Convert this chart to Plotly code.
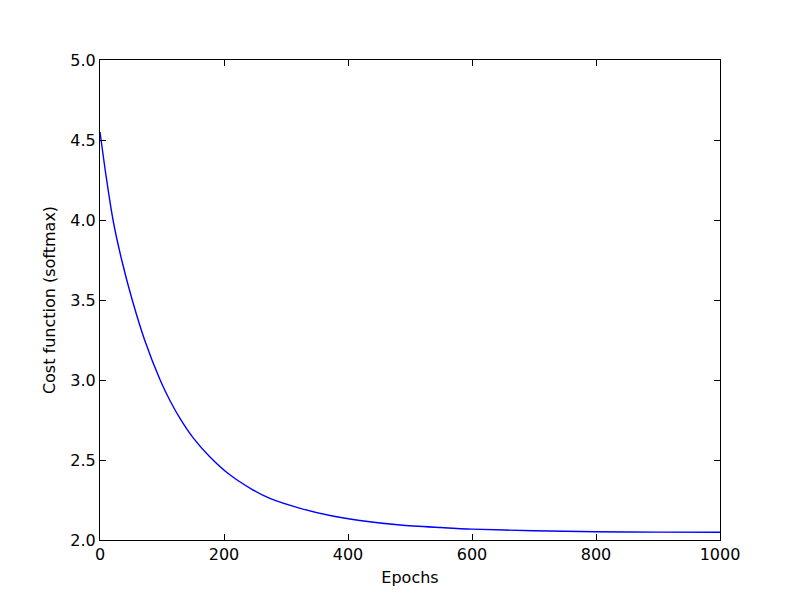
import plotly.graph_objects as go

epochs = [0, 10, 21, 35, 52, 72, 97, 113, 129, 150, 177, 210, 245, 274, 323, 371, 419, 484, 550, 600, 700, 800, 900, 1000]
cost = [4.55, 4.27, 4.00, 3.75, 3.50, 3.25, 3.00, 2.87, 2.76, 2.64, 2.521, 2.406, 2.317, 2.26, 2.198, 2.153, 2.122, 2.094, 2.078, 2.068, 2.058, 2.052, 2.049, 2.048]

x_ticks = [0, 200, 400, 600, 800, 1000]
y_ticks = [2.0, 2.5, 3.0, 3.5, 4.0, 4.5, 5.0]

fig = go.Figure()
fig.add_trace(go.Scatter(
    x=epochs, y=cost, mode="lines",
    line=dict(color="#0000ff", width=1.4, shape="spline", smoothing=0.8),
    showlegend=False,
))

axis_common = dict(
    showgrid=False, zeroline=False,
    showline=True, linecolor="black", linewidth=1.2,
    mirror="ticks", ticks="inside", ticklen=6, tickwidth=1, tickcolor="black",
    tickfont=dict(family="DejaVu Sans", size=16, color="black"),
)

fig.update_layout(
    width=792, height=592,
    margin=dict(l=92, r=80, t=52, b=60),
    paper_bgcolor="white", plot_bgcolor="white",
    font=dict(family="DejaVu Sans", size=16, color="black"),
    xaxis=dict(range=[0, 1000], tickvals=x_ticks, ticktext=[str(v) for v in x_ticks],
               title=dict(text="Epochs", font=dict(size=16), standoff=8), **axis_common),
    yaxis=dict(range=[2.0, 5.0], tickvals=y_ticks, ticktext=[f"{v:.1f}" for v in y_ticks],
               title=dict(text="Cost function (softmax)", font=dict(size=16), standoff=10), **axis_common),
)

fig.write_html("out.html")
